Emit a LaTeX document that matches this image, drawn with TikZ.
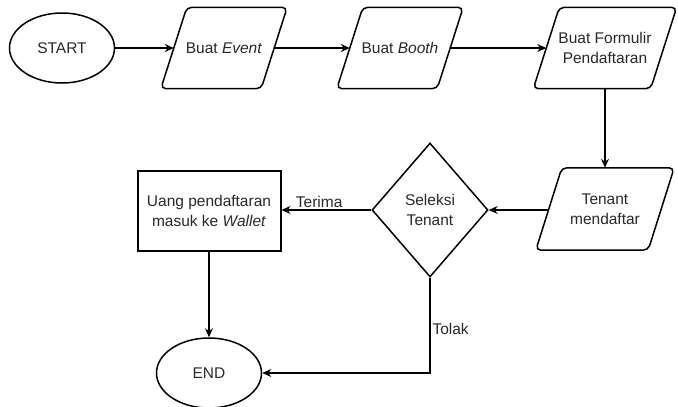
\documentclass[tikz,border=0pt]{standalone}
\usepackage{fontspec}
\setmainfont{Liberation Sans}
\usetikzlibrary{shapes.geometric,arrows.meta}
\definecolor{txt}{RGB}{40,40,40}
\begin{document}
\begin{tikzpicture}[x=1pt,y=-1pt,
  font=\fontsize{15.5}{20}\selectfont,
  shp/.style={draw, line width=1.5pt, text=txt, align=center, inner sep=0pt},
  ell/.style={shp, ellipse, minimum width=105pt, minimum height=70pt},
  para/.style={text=txt, align=center, minimum width=100pt, minimum height=81pt, inner sep=0pt},
  dia/.style={shp, diamond, minimum width=116pt, minimum height=134pt},
  box/.style={shp, rectangle, minimum width=143pt, minimum height=80pt, line width=2pt},
  arr/.style={-{Stealth[length=9pt,width=8pt]}, line width=1.1pt},
  lbl/.style={text=txt, inner sep=2pt}
]
\useasboundingbox (0,0) rectangle (678,407);
\node[ell] (start) at (62,48) {START};
\node[para] (ev) at (224,48) {Buat \textit{Event}};
\node[para] (bo) at (400,48) {Buat \textit{Booth}};
\node[para, minimum width=117pt] (fo) at (605,48) {Buat Formulir\\Pendaftaran};
\node[para, minimum width=112pt, minimum height=82pt] (te) at (605,209) {Tenant\\mendaftar};
\node[dia] (se) at (430,210) {Seleksi\\Tenant};
\node[box] (ua) at (209,211) {Uang pendaftaran\\masuk ke \textit{Wallet}};
\node[ell] (end) at (209,373) {END};

\foreach \n in {ev,bo,fo,te}
  \draw[line width=1.5pt, rounded corners=5pt]
    ([xshift=13pt]\n.north west) -- ([xshift=13pt]\n.north east)
    -- ([xshift=-13pt]\n.south east) -- ([xshift=-13pt]\n.south west) -- cycle;

\draw[arr] (start) -- (ev);
\draw[arr] (ev) -- (bo);
\draw[arr] (bo) -- (fo);
\draw[arr] (fo.south) -- (te.north);
\draw[arr] (te.west |- se.east) -- (se.east);
\draw[arr] (se.west) -- node[lbl, above, pos=0.58] {Terima} (ua.east |- se.west);
\draw[arr] (ua.south) -- (end.north);
\draw[arr] (se.south) |- node[lbl, right, pos=0.27] {Tolak} (end.east);
\end{tikzpicture}
\end{document}
